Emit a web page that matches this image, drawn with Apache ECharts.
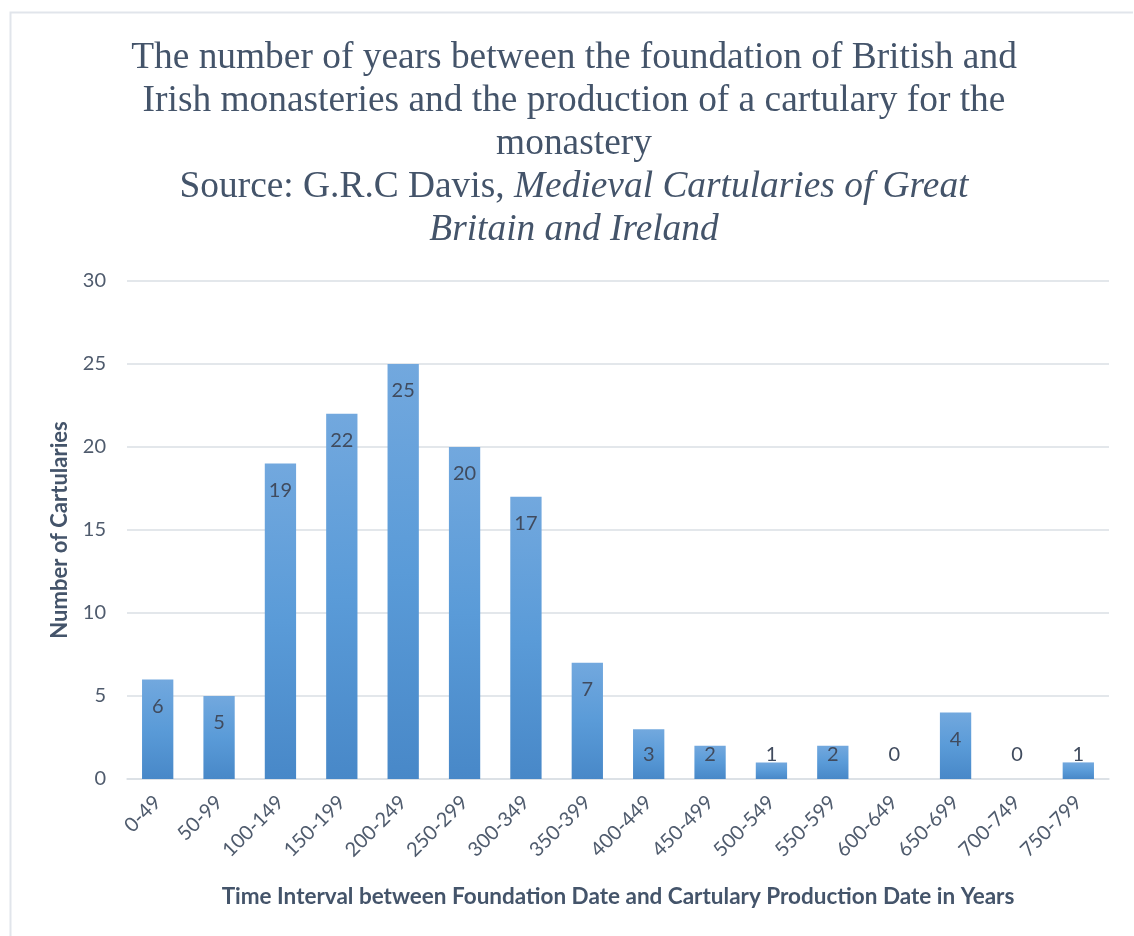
<!DOCTYPE html>
<html>
<head>
<meta charset="utf-8">
<title>Cartulary production intervals</title>
<script src="https://cdn.jsdelivr.net/npm/echarts@6/dist/echarts.min.js"></script>
<style>
  html, body { margin: 0; padding: 0; background: #fff; }
  #chart { width: 1134px; height: 936px; }
</style>
</head>
<body>
<div id="chart"></div>
<script>
// Years between foundation and cartulary production, grouped in 50-year bins
const categories = ['0-49', '50-99', '100-149', '150-199', '200-249', '250-299', '300-349', '350-399',
                    '400-449', '450-499', '500-549', '550-599', '600-649', '650-699', '700-749', '750-799'];
const cartularyCounts = [6, 5, 19, 22, 25, 20, 17, 7, 3, 2, 1, 2, 0, 4, 0, 1];
const yTicks = { min: 0, max: 30, interval: 5 };

const slate = '#44546A';
const tickColor = '#4F5B6D';
const gridColor = '#DADFE5';

const titleText =
  '{a|The number of years between the foundation of British and}\n' +
  '{a|Irish monasteries and the production of a cartulary for the}\n' +
  '{a|monastery}\n' +
  '{a|Source: G.R.C Davis, }{i|Medieval Cartularies of Great}\n' +
  '{i|Britain and Ireland}';

const barGradient = new echarts.graphic.LinearGradient(0, 0, 0, 1, [
  { offset: 0, color: '#72A8DE' },
  { offset: 0.5, color: '#5A9BD8' },
  { offset: 1, color: '#4888C8' }
]);

// short bars get their value label near the base, taller ones just inside the top
const seriesData = cartularyCounts.map(v => ({
  value: v,
  label: v < 4
    ? { position: 'insideBottom', distance: 14 }
    : { position: 'insideTop', distance: 17 }
}));

const chart = echarts.init(document.getElementById('chart'), null, { renderer: 'canvas' });

chart.setOption({
  backgroundColor: '#ffffff',
  animation: false,
  graphic: [
    {
      type: 'polyline',
      silent: true,
      shape: { points: [[10.5, 936], [10.5, 12.5], [1133, 12.5]] },
      style: { stroke: '#E1E5EB', lineWidth: 2, fill: null }
    },
    {
      type: 'text',
      silent: true,
      x: 574,
      y: 37,
      style: {
        text: titleText,
        align: 'center',
        verticalAlign: 'top',
        rich: {
          a: { fontFamily: 'Liberation Serif', fontSize: 37.4, fontWeight: 'normal', fill: slate, lineHeight: 43 },
          i: { fontFamily: 'Liberation Serif', fontSize: 37.4, fontWeight: 'normal', fontStyle: 'italic', fill: slate, lineHeight: 43 }
        }
      }
    }
  ],
  grid: { left: 127, right: 25, top: 281, bottom: 157 },
  xAxis: {
    type: 'category',
    data: categories,
    name: 'Time Interval between Foundation Date and Cartulary Production Date in Years',
    nameLocation: 'middle',
    nameGap: 106,
    nameTextStyle: { fontFamily: 'Lato', fontWeight: 'bold', fontSize: 22.5, color: slate },
    axisLine: { lineStyle: { color: gridColor, width: 1.5 } },
    axisTick: { show: false },
    axisLabel: {
      rotate: 45,
      interval: 0,
      margin: 20,
      fontFamily: 'Lato',
      fontSize: 20,
      color: tickColor
    }
  },
  yAxis: {
    type: 'value',
    min: yTicks.min,
    max: yTicks.max,
    interval: yTicks.interval,
    name: 'Number of Cartularies',
    nameLocation: 'middle',
    nameRotate: 90,
    nameGap: 56,
    nameTextStyle: { fontFamily: 'Lato', fontWeight: 'bold', fontSize: 22, color: slate },
    axisLine: { show: false },
    axisTick: { show: false },
    axisLabel: { margin: 21, fontFamily: 'Lato', fontSize: 20, color: tickColor },
    splitLine: { lineStyle: { color: gridColor, width: 1.5 } }
  },
  series: [
    {
      type: 'bar',
      data: seriesData,
      barWidth: '51%',
      itemStyle: { color: barGradient },
      label: {
        show: true,
        fontFamily: 'Lato',
        fontSize: 20,
        color: '#404B5E'
      }
    }
  ]
});
</script>
</body>
</html>
